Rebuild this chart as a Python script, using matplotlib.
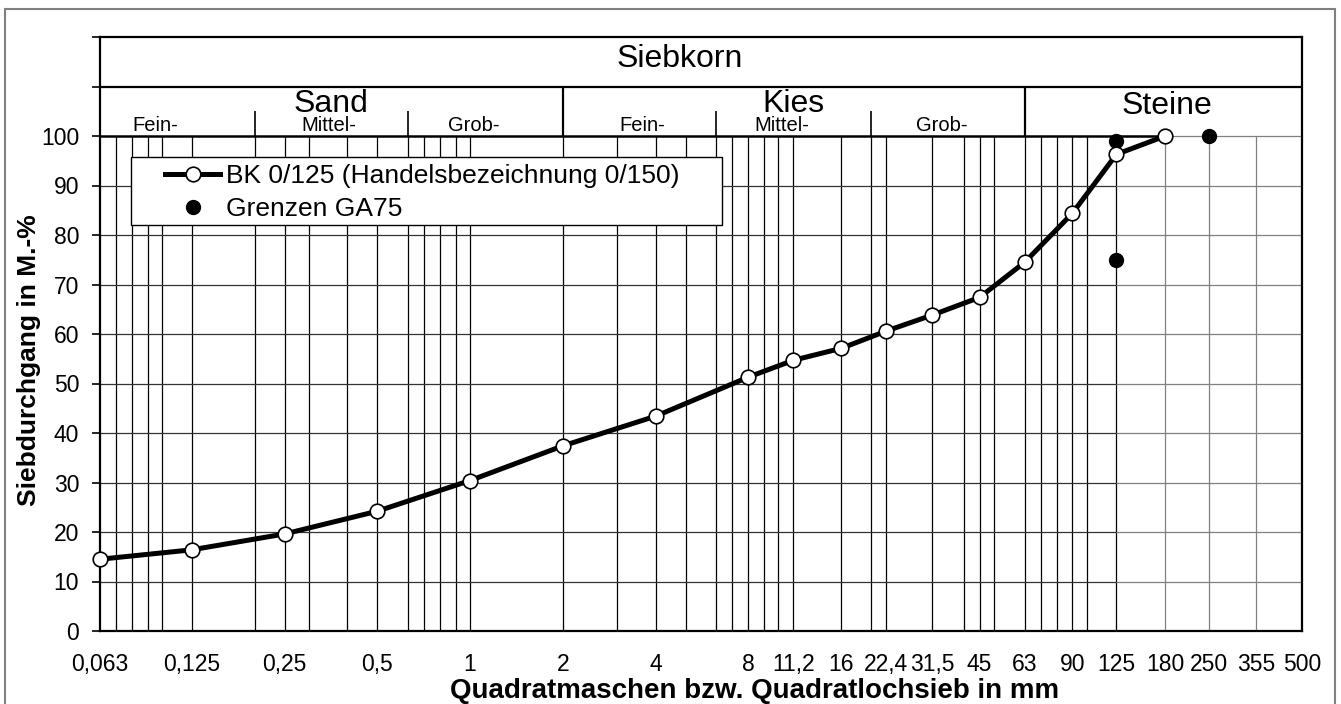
import matplotlib
matplotlib.use('Agg')
import matplotlib.pyplot as plt
from matplotlib.patches import Rectangle
from matplotlib.ticker import NullLocator

plt.rcParams['font.family'] = ['Liberation Sans', 'DejaVu Sans']

# Sieblinie BK 0/125
sieve_mm = [0.063, 0.125, 0.25, 0.5, 1, 2, 4, 8, 11.2, 16, 22.4, 31.5, 45, 63, 90, 125, 180]
passing = [14.5, 16.4, 19.6, 24.2, 30.4, 37.4, 43.4, 51.3, 54.7, 57.1, 60.6, 63.8, 67.4, 74.5, 84.4, 96.3, 100]

# Grenzen GA75
limit_mm = [125, 125, 250]
limit_pct = [99, 75, 100]

tick_mm = [0.063, 0.125, 0.25, 0.5, 1, 2, 4, 8, 11.2, 16, 22.4, 31.5, 45, 63, 90, 125, 180, 250, 355, 500]
tick_labels = ['0,063', '0,125', '0,25', '0,5', '1', '2', '4', '8', '11,2', '16', '22,4', '31,5',
               '45', '63', '90', '125', '180', '250', '355', '500']

grid_mm = [0.071, 0.08, 0.09, 0.1, 0.125, 0.2, 0.25, 0.3, 0.4, 0.5, 0.63, 0.71, 0.8, 0.9, 1,
           2, 3, 4, 5, 6.3, 7.1, 8, 9, 10, 11.2, 16, 20, 22.4, 31.5, 40, 45, 50, 63, 71, 80, 90,
           100, 125, 180, 250, 355]

# Kopfzeile: Bereichsgrenzen und Beschriftungen
main_bounds = [2, 63]
sub_bounds = [0.2, 0.63, 6.3, 20]
main_names = ['Sand', 'Kies', 'Steine']
main_pos = [0.355, 11.2, 182]
sub_names = ['Fein-', 'Mittel-', 'Grob-', 'Fein-', 'Mittel-', 'Grob-']
sub_pos = [0.095, 0.347, 1.03, 3.62, 10.3, 33.8]

W, H = 1341, 704
fig = plt.figure(figsize=(W / 100, H / 100), dpi=100)
ax = fig.add_axes([100 / W, 1 - 631 / H, 1202 / W, 594 / H])
ax.set_xscale('log')
ax.set_xlim(0.063, 500)
ax.set_ylim(0, 120)
ax.xaxis.set_minor_locator(NullLocator())
ax.set_xticks(tick_mm)
ax.set_xticklabels(tick_labels)
ax.tick_params(axis='x', length=0, pad=16, labelsize=16.5)
ax.set_yticks(range(0, 121, 10))
ax.set_yticklabels([str(v) if v <= 100 else '' for v in range(0, 121, 10)])
ax.tick_params(axis='y', direction='out', length=6, width=1.2, pad=9, labelsize=16.5)
for s in ax.spines.values():
    s.set_linewidth(1.6)
    s.set_color('black')

# Gitter
blk = [g for g in grid_mm if g <= 125]
gry = [g for g in grid_mm if g > 125]
ax.vlines(blk, 0, 100, color='black', lw=0.9, zorder=1)
ax.vlines(gry, 0, 100, color='#808080', lw=0.9, zorder=1)
ax.hlines(range(10, 100, 10), 0.063, 125, color='#333333', lw=0.9, zorder=1)
ax.hlines(range(10, 101, 10), 125, 500, color='#808080', lw=0.9, zorder=1)

# Kopf
ax.hlines([100], 0.063, 180, color='black', lw=1.8, zorder=2)
ax.hlines([110], 0.063, 500, color='black', lw=1.6, zorder=2)
ax.vlines(main_bounds, 100, 110, color='black', lw=1.6)
ax.vlines(sub_bounds, 100, 105, color='black', lw=1.2)
ax.text(4.8, 113.9, 'Siebkorn', ha='center', va='baseline', fontsize=23)
for name, x in zip(main_names, main_pos):
    ax.text(x, 104.9 if name != 'Steine' else 104.4, name, ha='center', va='baseline', fontsize=23)
for name, x in zip(sub_names, sub_pos):
    ax.text(x, 101.0, name, ha='center', va='baseline', fontsize=14.5)

ax.plot(limit_mm, limit_pct, 'o', color='black', ms=10, ls='none',
        label='Grenzen GA75', zorder=4, clip_on=False)
ax.plot(sieve_mm, passing, '-o', color='black', lw=3.6, ms=10.5, mfc='white', mec='black',
        mew=1.2, label='BK 0/125 (Handelsbezeichnung 0/150)', zorder=5, clip_on=False)

# Legendenrahmen
ax.add_patch(Rectangle((0.0258, 0.6835), 0.4917, 0.1145, transform=ax.transAxes,
                       facecolor='white', edgecolor='black', lw=1.0, zorder=6))
h, l = ax.get_legend_handles_labels()
leg = ax.legend(h[::-1], l[::-1], loc='upper left', bbox_to_anchor=(0.0541, 0.786), fontsize=19,
                frameon=False, borderpad=0, handlelength=2.1, handletextpad=0.2,
                labelspacing=0.35, borderaxespad=0)
leg.set_zorder(7)

fig.text(29 / W, 1 - 360 / H, 'Siebdurchgang in M.-%', rotation=90, ha='center', va='center',
         fontsize=19, fontweight='bold')
fig.text(755 / W, 1 - 698 / H, 'Quadratmaschen bzw. Quadratlochsieb in mm', ha='center',
         va='baseline', fontsize=20, fontweight='bold')

fig.patches.append(Rectangle((5 / W, -0.01), 1330 / W, 1 - 9 / H + 0.01, transform=fig.transFigure,
                             fill=False, edgecolor='#808080', lw=1.5))

fig.savefig('out.png', dpi=100)
